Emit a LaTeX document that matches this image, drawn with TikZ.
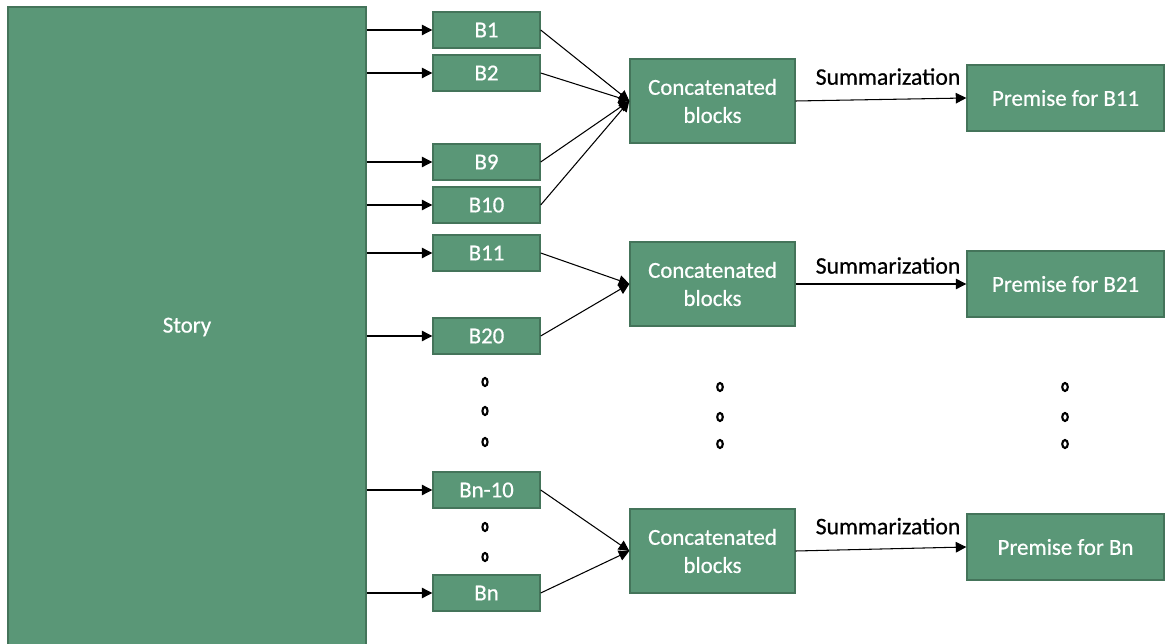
\documentclass[tikz,border=0pt]{standalone}
\usepackage{fontspec}
\setmainfont{Carlito}
\newfontfamily\boxfont{Carlito}[FakeBold=0.6]
\usepackage{xcolor}
\usetikzlibrary{arrows.meta}
\definecolor{blockgreen}{RGB}{90,151,119}
\definecolor{blockedge}{RGB}{68,116,90}

\begin{document}
\begin{tikzpicture}[x=0.02cm, y=-0.02cm,
    block/.style={rectangle, draw=blockedge, fill=blockgreen, line width=0.8pt, text=white, font=\boxfont\fontsize{13}{16}\selectfont, minimum width=2.14cm, minimum height=0.72cm, inner sep=0pt},
    concat/.style={block, minimum width=3.3cm, minimum height=1.68cm, align=center},
    premise/.style={block, minimum width=3.94cm, minimum height=1.32cm},
    arrow/.style={-{Triangle[length=6pt, width=6pt]}, line width=0.6pt, black},
    sumlabel/.style={font=\boxfont\fontsize{13.5}{16}\selectfont, inner sep=0pt, above=8pt, xshift=4pt},
    dotmark/.style={line width=1.2pt, black}]

\useasboundingbox (0,0) rectangle (1165,644);

% Story
\node[block, minimum width=7.16cm, minimum height=12.8cm] (story) at (187, 327) {Story};

% Blocks
\node[block] (b1) at (486.5, 30) {B1};
\node[block] (b2) at (486.5, 73) {B2};
\node[block] (b9) at (486.5, 162) {B9};
\node[block] (b10) at (486.5, 205) {B10};
\node[block] (b11) at (486.5, 253) {B11};
\node[block] (b20) at (486.5, 336) {B20};
\node[block] (bn10) at (486.5, 490) {Bn-10};
\node[block] (bn) at (486.5, 593) {Bn};

\foreach \b in {b1, b2, b9, b10, b11, b20, bn10, bn}
    \draw[arrow] (story.east |- \b) -- (\b);

% Concatenated blocks
\node[concat] (cat1) at (712.5, 101) {Concatenated\\blocks};
\node[concat] (cat2) at (712.5, 284) {Concatenated\\blocks};
\node[concat] (cat3) at (712.5, 551) {Concatenated\\blocks};

\foreach \b in {b1, b2, b9, b10}
    \draw[arrow] (\b.east) -- (cat1.west);
\foreach \b in {b11, b20}
    \draw[arrow] (\b.east) -- (cat2.west);
\foreach \b in {bn10, bn}
    \draw[arrow] (\b.east) -- (cat3.west);

% Premises
\node[premise] (prem1) at (1065.5, 98) {Premise for B11};
\node[premise] (prem2) at (1065.5, 284) {Premise for B21};
\node[premise] (prem3) at (1065.5, 547) {Premise for Bn};

\draw[arrow] (cat1.east) -- node[sumlabel] {Summarization} (prem1.west);
\draw[arrow] (cat2.east) -- node[sumlabel, yshift=-2.5pt] {Summarization} (prem2.west);
\draw[arrow] (cat3.east) -- node[sumlabel] {Summarization} (prem3.west);

% Dots
\foreach \y in {382, 411, 442, 527, 557}
    \draw[dotmark] (485, \y) ellipse [x radius=2.6, y radius=4];
\foreach \x in {720, 1065}
    \foreach \y in {387, 417, 444}
        \draw[dotmark] (\x, \y) ellipse [x radius=2.8, y radius=4];

\end{tikzpicture}
\end{document}
